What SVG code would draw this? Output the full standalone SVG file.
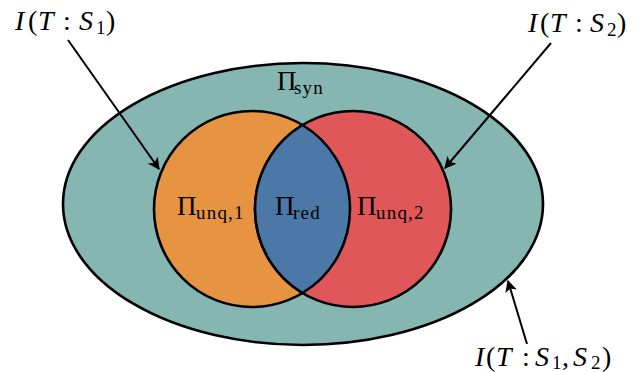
<svg xmlns="http://www.w3.org/2000/svg" width="639" height="372" viewBox="0 0 639 372">
<style>
.t{font-family:"Liberation Serif","DejaVu Serif",serif;font-size:28px;fill:#000}
.p{font-size:27px}
.i{font-style:italic}
.s{font-size:19px}
.ls{letter-spacing:1.2px}
.shape{stroke:#000;stroke-width:2.6}
.con{stroke:#000;stroke-width:2;fill:none}
</style>
<defs>
<marker id="ah" viewBox="0 0 10 10" refX="9" refY="5" markerWidth="6" markerHeight="6" orient="auto" markerUnits="strokeWidth">
<path d="M0,0 L10,5 L0,10 L2.5,5 Z" fill="#000"/>
</marker>
</defs>
<g id="syn">
<ellipse class="shape" cx="303" cy="204" rx="240" ry="141" fill="#86b6b1"/>
<text class="t p" x="277" y="90">Π<tspan class="s ls" x="294" dy="4">syn</tspan></text>
</g>
<g id="unq1">
<circle class="shape" cx="252" cy="209" r="98" fill="#e69342"/>
<text class="t p" x="177" y="215">Π<tspan class="s ls" x="196" dy="4">unq,1</tspan></text>
</g>
<g id="unq2">
<circle class="shape" cx="353" cy="209" r="98" fill="#e0575a"/>
<text class="t p" x="357" y="215">Π<tspan class="s ls" x="376" dy="4">unq,2</tspan></text>
</g>
<g id="red">
<path class="shape" d="M302.5,125 A98,98 0 0 1 302.5,293 A98,98 0 0 1 302.5,125 Z" fill="#4c78a8"/>
<text class="t p" x="275" y="215">Π<tspan class="s ls" x="293" dy="4">red</tspan></text>
</g>
<g id="connectors">
<line class="con" x1="68" y1="40" x2="159" y2="169" marker-end="url(#ah)"/>
<line class="con" x1="551" y1="43" x2="445" y2="168" marker-end="url(#ah)"/>
<line class="con" x1="527" y1="344" x2="508" y2="281" marker-end="url(#ah)"/>
</g>
<g id="label1">
<text class="t" y="30"><tspan class="i" x="15">I</tspan><tspan x="28">(</tspan><tspan class="i" x="38">T</tspan><tspan x="63">:</tspan><tspan class="i" x="79">S</tspan><tspan class="s" x="96" dy="4">1</tspan><tspan x="106" dy="-4">)</tspan></text>
</g>
<g id="label2">
<text class="t" y="32"><tspan class="i" x="528">I</tspan><tspan x="540">(</tspan><tspan class="i" x="550">T</tspan><tspan x="575">:</tspan><tspan class="i" x="590">S</tspan><tspan class="s" x="607" dy="4">2</tspan><tspan x="617" dy="-4">)</tspan></text>
</g>
<g id="label3">
<text class="t" y="366"><tspan class="i" x="475">I</tspan><tspan x="486">(</tspan><tspan class="i" x="496">T</tspan><tspan x="522">:</tspan><tspan class="i" x="535">S</tspan><tspan class="s" x="552" dy="3">1</tspan><tspan x="562" dy="-3">,</tspan><tspan class="i" x="573">S</tspan><tspan class="s" x="591" dy="3">2</tspan><tspan x="602" dy="-3">)</tspan></text>
</g>
</svg>
